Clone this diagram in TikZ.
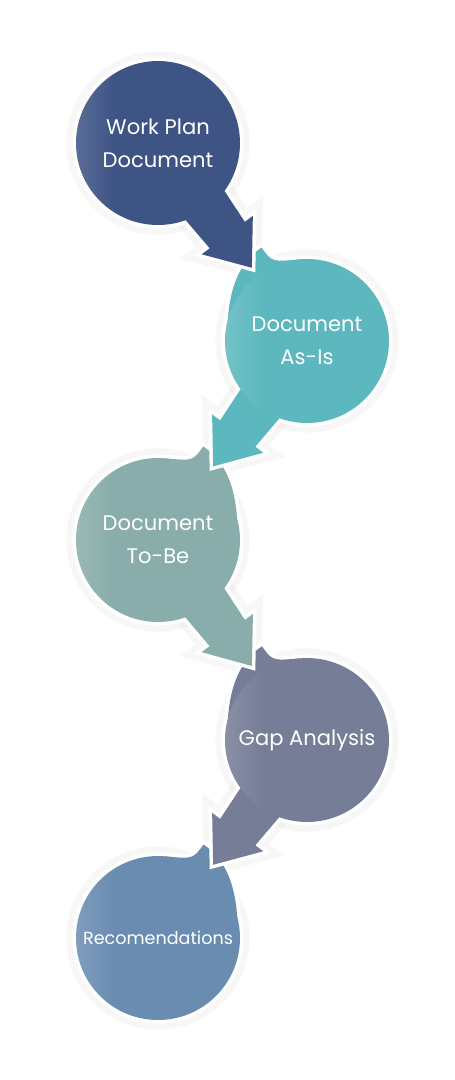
\documentclass[tikz,border=0pt]{standalone}
\usepackage{fontspec}
\setmainfont{Poppins}
\usetikzlibrary{calc,fadings}
\pgfdeclarelayer{sombra}
\pgfdeclarelayer{dibujo}
\pgfsetlayers{sombra,dibujo,main}
\definecolor{plan}{RGB}{62,84,133}
\definecolor{asis}{RGB}{92,184,190}
\definecolor{tobe}{RGB}{136,173,170}
\definecolor{gap}{RGB}{118,125,150}
\definecolor{recom}{RGB}{106,140,177}
\pgfdeclarehorizontalshading{brillo}{100bp}{color(0bp)=(transparent!0); color(25bp)=(transparent!0); color(37bp)=(transparent!100); color(100bp)=(transparent!100)}
\pgfdeclarefading{brillo}{\pgfuseshading{brillo}}
\tikzstyle{etapa}=[text=white,align=center,font=\fontsize{12}{19}\selectfont]
\tikzstyle{borde}=[draw=white,line width=4pt,miter limit=4]
\tikzstyle{halo}=[draw=black!60,line width=11pt,opacity=0.05,xshift=1pt,yshift=-2pt]
% circulo: #1 centro, #2 estilo
\newcommand\circulo[2]{\path[#2] (#1) circle (1.64cm);}
% cola: #1 centro, #2 centro anterior, #3 lado (1 o -1), #4 estilo
\newcommand\cola[4]{%
	\pgfmathsetmacro\ua{-32*#3}\pgfmathsetmacro\ub{-13*#3}\pgfmathsetmacro\uc{-11*#3}%
	\pgfmathsetmacro\ud{3*#3}\pgfmathsetmacro\ue{17*#3}\pgfmathsetmacro\uf{38*#3}%
	\path[#4] ($(#1)!1.64cm!\ua:(#2)$) .. controls ($(#1)!1.73cm!\ub:(#2)$) .. ($(#1)!2.08cm!\uc:(#2)$)
		.. controls ($(#1)!2.07cm!\ud:(#2)$) and ($(#1)!1.9cm!\ue:(#2)$) .. ($(#1)!1.64cm!\uf:(#2)$) -- (#1) -- cycle;}
% flecha: #1 desde, #2 hacia, #3 estilo
\newcommand\flecha[3]{%
	\path[#3] ($($(#1)!0.2!(#2)$)!0.52cm!90:(#2)$) -- ($($(#1)!0.465!(#2)$)!0.44cm!90:(#2)$)
		-- ($($(#1)!0.465!(#2)$)!0.64cm!90:(#2)$) -- ($(#1)!0.63!(#2)$)
		-- ($($(#1)!0.465!(#2)$)!0.64cm!-90:(#2)$) -- ($($(#1)!0.465!(#2)$)!0.44cm!-90:(#2)$)
		-- ($($(#1)!0.2!(#2)$)!0.52cm!-90:(#2)$) -- cycle;}

\begin{document}
\begin{tikzpicture}[x=0.02cm,y=-0.02cm]
	\useasboundingbox (0,0) rectangle (454,1080);
	\coordinate (c1) at (158,143);
	\coordinate (c2) at (307,341);
	\coordinate (c3) at (158,540);
	\coordinate (c4) at (307,740);
	\coordinate (c5) at (158,938);
	\node [etapa] (plan) at (c1) {Work Plan\\Document};
	\node [etapa] (asis) at (c2) {Document\\As-Is};
	\node [etapa] (tobe) at (c3) {Document\\To-Be};
	\node [etapa] (gap) at (c4) {Gap Analysis};
	\node [etapa,font=\fontsize{10}{12}\selectfont] (recom) at (c5) {Recomendations};
	\begin{pgfonlayer}{sombra}
		\foreach \c in {c1,c2,c3,c4,c5} \circulo{\c}{halo};
		\flecha{c1}{c2}{halo} \flecha{c2}{c3}{halo} \flecha{c3}{c4}{halo} \flecha{c4}{c5}{halo}
	\end{pgfonlayer}
	\begin{pgfonlayer}{dibujo}
		\circulo{c5}{borde} \cola{c5}{c4}{-1}{borde}
		\circulo{c5}{fill=recom} \cola{c5}{c4}{-1}{fill=recom}
		\circulo{c4}{borde} \cola{c4}{c3}{1}{borde} \flecha{c4}{c5}{borde}
		\circulo{c4}{fill=gap} \cola{c4}{c3}{1}{fill=gap} \flecha{c4}{c5}{fill=gap}
		\circulo{c3}{borde} \cola{c3}{c2}{-1}{borde} \flecha{c3}{c4}{borde}
		\circulo{c3}{fill=tobe} \cola{c3}{c2}{-1}{fill=tobe} \flecha{c3}{c4}{fill=tobe}
		\circulo{c2}{borde} \cola{c2}{c1}{1}{borde} \flecha{c2}{c3}{borde}
		\circulo{c2}{fill=asis} \cola{c2}{c1}{1}{fill=asis} \flecha{c2}{c3}{fill=asis}
		\circulo{c1}{borde} \flecha{c1}{c2}{borde}
		\circulo{c1}{fill=plan} \flecha{c1}{c2}{fill=plan}
		\foreach \c in {c1,c2,c3,c4,c5} \circulo{\c}{fill=white,opacity=0.15,path fading=brillo};
	\end{pgfonlayer}
\end{tikzpicture}
\end{document}
